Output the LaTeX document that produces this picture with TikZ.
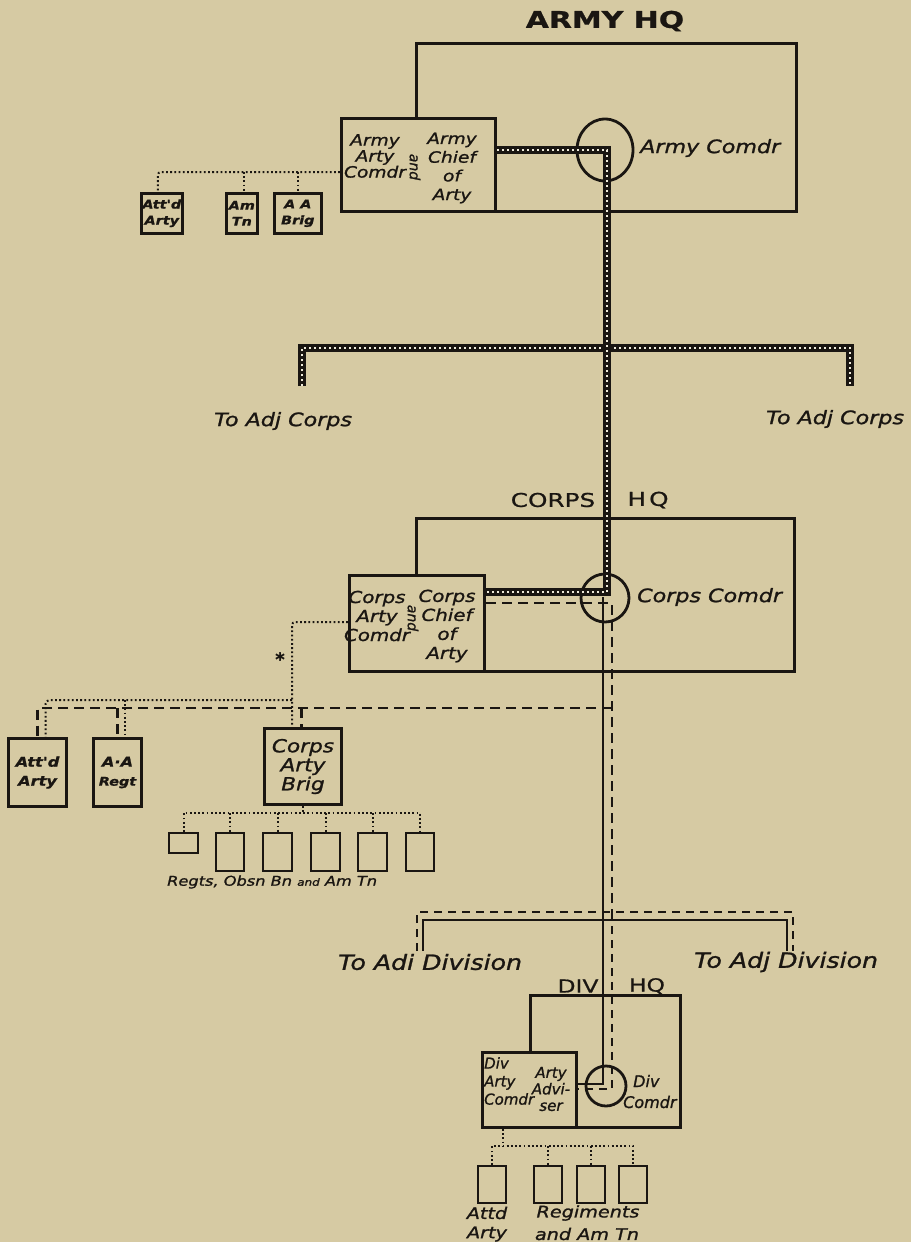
\documentclass[tikz,border=0pt]{standalone}
\usepackage{fontspec}
\setmainfont{DejaVu Sans}
\newfontfamily\lab[FakeStretch=1.2,FakeBold=1.2]{DejaVu Sans}
\newfontfamily\labn[FakeBold=1.2]{DejaVu Sans}
\newfontfamily\ttl[FakeStretch=1.3,FakeBold=0.8]{DejaVu Sans}
\usetikzlibrary{shapes.geometric,calc}
\definecolor{paper}{RGB}{214,202,163}
\definecolor{ink}{RGB}{26,22,18}
\tikzset{
  hqbox/.style={draw=ink, line width=2.8pt, inner sep=0pt, anchor=north west},
  box/.style={draw=ink, line width=3pt, fill=paper, inner sep=0pt, anchor=north west},
  sbox/.style={draw=ink, line width=2.6pt, fill=paper, inner sep=0pt, anchor=north west, align=center, text=ink,
    font=\lab\bfseries\itshape\fontsize{12}{16}\selectfont},
  cbox/.style={draw=ink, line width=3pt, fill=paper, inner sep=0pt, anchor=north west, align=center, text=ink,
    font=\lab\bfseries\itshape\fontsize{13.5}{19}\selectfont},
  bbox/.style={draw=ink, line width=3pt, fill=paper, inner sep=0pt, anchor=north west, align=center, text=ink,
    font=\lab\itshape\fontsize{18}{19}\selectfont},
  sub/.style={draw=ink, line width=2.2pt, fill=paper, inner sep=0pt, anchor=north west},
  comdr/.style={draw=ink, line width=2.8pt, ellipse, inner sep=0pt},
  lbl/.style={inner sep=0pt, text=ink, font=\lab\itshape\fontsize{18.5}{18}\selectfont},
  lblD/.style={inner sep=0pt, text=ink, font=\lab\itshape\fontsize{21}{20}\selectfont},
  inlbl/.style={inner sep=0pt, text=ink, align=center, font=\lab\itshape\fontsize{15.5}{16}\selectfont},
  inlblC/.style={inner sep=0pt, text=ink, align=center, font=\lab\itshape\fontsize{16.5}{19}\selectfont},
  dl/.style={inner sep=0pt, text=ink, font=\labn\itshape\fontsize{15}{18}\selectfont},
  bl/.style={inner sep=0pt, text=ink, font=\lab\itshape\fontsize{16}{16}\selectfont},
  andlbl/.style={inner sep=0pt, text=ink, rotate=-90, font=\labn\itshape\fontsize{14}{14}\selectfont},
  ttlA/.style={inner sep=0pt, text=ink, font=\ttl\bfseries\fontsize{23}{23}\selectfont},
  ttlC/.style={inner sep=0pt, text=ink, font=\ttl\fontsize{19}{19}\selectfont},
  ttlD/.style={inner sep=0pt, text=ink, font=\ttl\fontsize{18}{18}\selectfont},
  dotrel/.style={draw=ink, line width=2pt, dash pattern=on 1.8pt off 2.4pt},
  dashrel/.style={draw=ink, line width=2.7pt, dash pattern=on 10pt off 6pt},
  dashD/.style={draw=ink, line width=2.2pt, dash pattern=on 8pt off 6pt},
  solrel/.style={draw=ink, line width=1.8pt},
  thickrel/.style={draw=ink, line width=8pt,
    postaction={draw=paper!40!white, line width=1.5pt, dash pattern=on 2pt off 3pt}},
}
\begin{document}
\begin{tikzpicture}[x=1pt,y=-1pt]
\useasboundingbox (0,0) rectangle (911,1242);
\fill[paper] (0,0) rectangle (911,1242);

% ---------------- ARMY HQ ----------------
\node[ttlA] (armyhq) at (605,21) {ARMY HQ};
\node[hqbox, minimum width=380, minimum height=168] (arect) at (415,42) {};
\node[box, minimum width=154, minimum height=93] (aarty) at (340,117) {};
\node[comdr, minimum width=56, minimum height=62] (acirc) at (605,150) {};
\node[lbl, anchor=west] (acomdr) at (640,148) {Army Comdr};
\node[inlbl] (aartyl) at (375,156) {Army\\Arty\\Comdr};
\node[inlbl, font=\lab\itshape\fontsize{15.5}{18.7}\selectfont] (aartyr) at (452,168) {Army\\Chief\\of\\Arty};
\node[andlbl] (aand) at (415,167) {and};

\node[sbox, minimum width=41, minimum height=40] (aatt) at (140,192) {Att'd\\Arty};
\node[sbox, minimum width=31, minimum height=40] (aamtn) at (225,192) {Am\\Tn};
\node[sbox, minimum width=47, minimum height=40] (aaab) at (273,192) {A A\\Brig};
\coordinate (adot) at (166,172);
\draw[dotrel, rounded corners=3pt] (aarty.west |- adot) -- ([xshift=-4pt]aatt.north |- adot) -- ([xshift=-4pt]aatt.north);
\draw[dotrel] ([xshift=2pt]aamtn.north |- adot) -- ([xshift=2pt]aamtn.north);
\draw[dotrel] (aaab.north |- adot) -- (aaab.north);

% ---------------- bar to adjacent corps ----------------
\coordinate (barM) at (607,348);
\coordinate (barL) at (302,386);
\coordinate (barR) at (850,386);
\draw[thickrel] (barL) -- (barL |- barM) -- (barR |- barM) -- (barR);
\node[lbl, anchor=west] (adjL) at (214,421) {To Adj Corps};
\node[lbl, anchor=west] (adjR) at (766,419) {To Adj Corps};

% ---------------- CORPS HQ ----------------
\node[ttlC] (corpsT) at (553,500) {CORPS};
\node[ttlC] (corpsH) at (648,500) {H\,Q};
\node[hqbox, minimum width=378, minimum height=153] (crect) at (415,517) {};
\node[box, minimum width=135, minimum height=96] (carty) at (348,574) {};
\node[comdr, minimum width=48, minimum height=48] (ccirc) at (605,598) {};
\node[lbl, anchor=west] (ccomdr) at (637,597) {Corps Comdr};
\node[inlblC] (cartyl) at (377,616) {Corps\\Arty\\Comdr};
\node[inlblC] (cartyr) at (447,626) {Corps\\Chief\\of\\Arty};
\node[andlbl] (cand) at (413,618) {and};

% chain of command thick line
\coordinate (ajoin) at (607,150);
\coordinate (cjoin) at (607,592);
\draw[thickrel] (aarty.east |- ajoin) -- (ajoin) -- (cjoin) -- (carty.east |- cjoin);

% corps left units
\node[cbox, minimum width=58, minimum height=68] (catt) at (7,737) {Att'd\\Arty};
\node[cbox, minimum width=48, minimum height=68] (caa) at (92,737) {A·A\\{\fontsize{12}{12}\selectfont Regt}};
\node[bbox, minimum width=77, minimum height=76] (cbrig) at (263,727) {Corps\\Arty\\Brig};
\node[inner sep=0pt, text=ink, font=\labn\bfseries\fontsize{18}{18}\selectfont] (cast) at (280,659) {*};

\coordinate (cdotA) at (292,622);
\coordinate (cdotB) at (292,700);
\draw[dotrel, rounded corners=3pt] (carty.west |- cdotA) -- (cdotA) -- (cdotA |- cbrig.north);
\draw[dotrel, rounded corners=4pt] (cdotB) -- ([xshift=8pt]catt.north |- cdotB) -- ([xshift=8pt]catt.north);
\draw[dotrel] ([xshift=7pt]caa.north |- cdotB) -- ([xshift=7pt]caa.north);

\coordinate (cdashA) at (612,603);
\coordinate (cdashB) at (612,708);
\draw[dashrel] (cdashB) -- (catt.north |- cdashB) -- (catt.north);
\draw[dashrel] (caa.north |- cdashB) -- (caa.north);
\draw[dashrel] ([xshift=-1.5pt]cbrig.north |- cdashB) -- ([xshift=-1.5pt]cbrig.north);

% brigade units
\node[sub, minimum width=29, minimum height=20] (s1) at (168,832) {};
\node[sub, minimum width=28, minimum height=38] (s2) at (215,832) {};
\node[sub, minimum width=29, minimum height=38] (s3) at (262,832) {};
\node[sub, minimum width=29, minimum height=38] (s4) at (310,832) {};
\node[sub, minimum width=29, minimum height=38] (s5) at (357,832) {};
\node[sub, minimum width=28, minimum height=38] (s6) at (405,832) {};
\coordinate (bdot) at (301,813);
\draw[dotrel] (cbrig.south) -- (cbrig.south |- bdot);
\draw[dotrel] (s1.north) -- (s1.north |- bdot) -- (s6.north |- bdot) -- (s6.north);
\draw[dotrel] (s2.north |- bdot) -- (s2.north);
\draw[dotrel] (s3.north |- bdot) -- (s3.north);
\draw[dotrel] (s4.north |- bdot) -- (s4.north);
\draw[dotrel] (s5.north |- bdot) -- (s5.north);
\node[inner sep=0pt, text=ink, anchor=west, font=\lab\itshape\fontsize{13.5}{13}\selectfont] (regts) at (167,882)
  {Regts, Obsn Bn {\fontsize{10}{10}\selectfont and} Am Tn};

% ---------------- to adjacent divisions ----------------
\coordinate (dbarD) at (605,912);
\coordinate (dbarS) at (605,920);
\coordinate (dLd) at (417,951);
\coordinate (dRd) at (793,951);
\coordinate (dLs) at (423,951);
\coordinate (dRs) at (787,951);
\draw[dashD] (dLd) -- (dLd |- dbarD) -- (dRd |- dbarD) -- (dRd);
\draw[solrel] (dLs) -- (dLs |- dbarS) -- (dRs |- dbarS) -- (dRs);
\node[lblD, anchor=west] (divL) at (338,962) {To Adi Division};
\node[lblD, anchor=west] (divR) at (694,962) {To Adj Division};

% ---------------- DIV HQ ----------------
\node[ttlD] (divT) at (578,986) {DIV};
\node[ttlD] (divH) at (647,986) {HQ};
\node[hqbox, minimum width=150, minimum height=132] (drect) at (529,994) {};
\node[box, minimum width=94, minimum height=75] (darty) at (481,1051) {};
\node[comdr, minimum width=40, minimum height=40] (dcirc) at (606,1086) {};
\node[dl, anchor=north west, align=left] (dartyl) at (484,1057) {Div\\Arty\\Comdr};
\node[dl, align=center, font=\labn\itshape\fontsize{15}{16.5}\selectfont] (dartyr) at (551,1089) {Arty\\Advi-\\ser};
\node[dl, anchor=west, font=\labn\itshape\fontsize{16}{16}\selectfont] (dcd) at (633,1081) {Div};
\node[dl, anchor=west, font=\labn\itshape\fontsize{16}{16}\selectfont] (dcc) at (623,1102) {Comdr};

% dashed line of artillery staff, corps to division
\coordinate (ddash) at (612,1089);
\draw[dashrel] (carty.east |- cdashA) -- (cdashA) -- (ddash |- dbarD);
\draw[dashD] (ddash |- dbarD) -- (ddash) -- (darty.east |- ddash);
% thin solid line of command to division
\coordinate (csol) at (603,597);
\coordinate (dsol) at (603,1084);
\draw[solrel] (csol) -- (dsol) -- (darty.east |- dsol);

% division units
\node[sub, minimum width=28, minimum height=37] (b1) at (477,1165) {};
\node[sub, minimum width=28, minimum height=37] (b2) at (533,1165) {};
\node[sub, minimum width=28, minimum height=37] (b3) at (576,1165) {};
\node[sub, minimum width=28, minimum height=37] (b4) at (618,1165) {};
\coordinate (ddot) at (503,1146);
\draw[dotrel] (ddot |- darty.south) -- (ddot);
\draw[dotrel] (b1.north) -- (b1.north |- ddot) -- (b4.north |- ddot) -- (b4.north);
\draw[dotrel] (b2.north |- ddot) -- (b2.north);
\draw[dotrel] (b3.north |- ddot) -- (b3.north);
\node[bl] (attd) at (487,1213) {Attd};
\node[bl] (attdarty) at (487,1234) {Arty};
\node[bl] (regi) at (588,1213) {Regiments};
\node[bl] (amtn) at (587,1234) {and Am Tn};
\end{tikzpicture}
\end{document}
